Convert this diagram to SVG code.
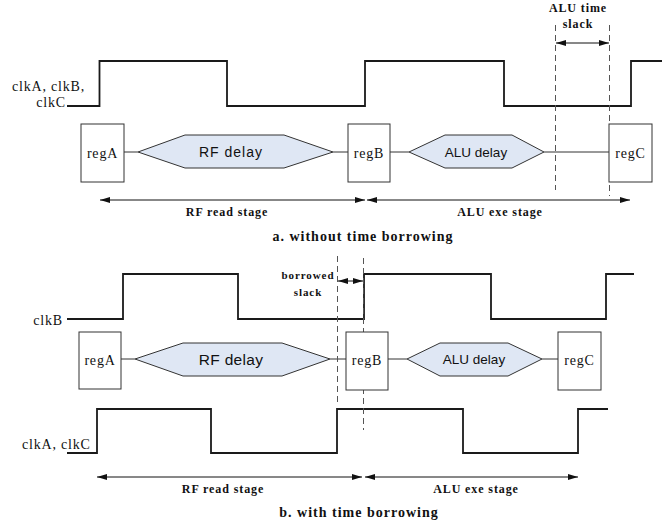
<svg xmlns="http://www.w3.org/2000/svg" width="672" height="525" viewBox="0 0 672 525">
<style>
.clk{fill:none;stroke:#1a1a1a;stroke-width:1.8}
.reg{fill:#fff;stroke:#333;stroke-width:1}
.hex{fill:#dfe7f4;stroke:#333;stroke-width:1}
.wire{stroke:#333;stroke-width:1;fill:none}
.dash{stroke:#555;stroke-width:1;stroke-dasharray:6,4;fill:none}
.arr{stroke:#111;stroke-width:1;fill:none;marker-start:url(#ah);marker-end:url(#ah)}
.lbl{font-family:"Liberation Serif",serif;font-size:14px;letter-spacing:0.8px;fill:#111}
.dl{font-family:"Liberation Sans",sans-serif;font-size:13.5px;fill:#111;text-anchor:middle}
.st{font-family:"Liberation Serif",serif;font-size:12px;font-weight:bold;letter-spacing:0.9px;fill:#111;text-anchor:middle}
.ttl{font-family:"Liberation Serif",serif;font-size:14px;font-weight:bold;letter-spacing:1px;fill:#111;text-anchor:middle}
</style>
<defs>
<marker id="ah" viewBox="0 0 10 6" refX="10" refY="3" markerWidth="10" markerHeight="6" markerUnits="userSpaceOnUse" orient="auto-start-reverse">
<path d="M0,0 L10,3 L0,6 z" fill="#111"/>
</marker>
</defs>

<!-- Part a -->
<g id="clk-a">
<polyline class="clk" points="67,106 99.5,106 99.5,61 227,61 227,106 365,106 365,61 504,61 504,106 631,106 631,61 662,61"/>
<text class="lbl" x="12" y="91">clkA, clkB,</text>
<text class="lbl" x="66" y="107" text-anchor="end">clkC</text>
</g>
<g id="connectors-a">
<line class="wire" x1="124" y1="152" x2="138" y2="152"/>
<line class="wire" x1="333" y1="152" x2="348" y2="152"/>
<line class="wire" x1="390" y1="152" x2="409" y2="152"/>
<line class="wire" x1="544" y1="152" x2="609" y2="152"/>
<line class="dash" x1="555.5" y1="25" x2="555.5" y2="190"/>
<line class="dash" x1="609.5" y1="25" x2="609.5" y2="196"/>
<line class="arr" x1="556" y1="43" x2="609" y2="43"/>
<line class="arr" x1="100" y1="200" x2="365" y2="200"/>
<line class="arr" x1="367" y1="200" x2="630" y2="200"/>
</g>
<g id="regA-a"><rect class="reg" x="81" y="124" width="43" height="58"/><text class="lbl" x="102.5" y="158" text-anchor="middle">regA</text></g>
<g id="rf-a"><polygon class="hex" points="138,152 185,135 284,135 333,152 284,168 185,168"/><text class="dl" x="231" y="157" style="font-size:14px;letter-spacing:1px">RF delay</text></g>
<g id="regB-a"><rect class="reg" x="348" y="124" width="42" height="58"/><text class="lbl" x="369" y="158" text-anchor="middle">regB</text></g>
<g id="alu-a"><polygon class="hex" points="409,152 445,135 512,135 544,152 512,168 445,168"/><text class="dl" x="476" y="157">ALU delay</text></g>
<g id="regC-a"><rect class="reg" x="609" y="124" width="43" height="58"/><text class="lbl" x="630.5" y="158" text-anchor="middle">regC</text></g>
<g id="labels-a">
<text class="st" x="578" y="12">ALU time</text>
<text class="st" x="578" y="28">slack</text>
<text class="st" x="227" y="216">RF read stage</text>
<text class="st" x="500" y="216">ALU exe stage</text>
<text class="ttl" x="363" y="241">a. without time borrowing</text>
</g>

<!-- Part b -->
<g id="clkB-b">
<polyline class="clk" points="67,319 123,319 123,274 238,274 238,319 364,319 364,274 491,274 491,319 606,319 606,274 634,274"/>
<text class="lbl" x="63" y="325" text-anchor="end">clkB</text>
</g>
<g id="clkAC-b">
<polyline class="clk" points="67,453 97,453 97,409 211,409 211,453 337,453 337,409 463,409 463,453 578,453 578,409 608,409"/>
<text class="lbl" x="22" y="449">clkA, clkC</text>
</g>
<g id="connectors-b">
<line class="wire" x1="121" y1="359" x2="135" y2="359"/>
<line class="wire" x1="330" y1="359" x2="346" y2="359"/>
<line class="wire" x1="388" y1="359" x2="407" y2="359"/>
<line class="wire" x1="542" y1="359" x2="558" y2="359"/>
<line class="dash" x1="337.5" y1="256" x2="337.5" y2="406"/>
<line class="dash" x1="363.5" y1="258" x2="363.5" y2="430"/>
<line class="arr" x1="338" y1="281" x2="363" y2="281"/>
<line class="arr" x1="97" y1="477" x2="362" y2="477"/>
<line class="arr" x1="365" y1="477" x2="578" y2="477"/>
</g>
<g id="regA-b"><rect class="reg" x="79" y="332" width="42" height="57"/><text class="lbl" x="100" y="365" text-anchor="middle">regA</text></g>
<g id="rf-b"><polygon class="hex" points="135,359 183,343 282,343 330,359 282,376 183,376"/><text class="dl" x="231" y="365" style="font-size:15.5px;letter-spacing:0.3px">RF delay</text></g>
<g id="regB-b"><rect class="reg" x="346" y="332" width="42" height="58"/><text class="lbl" x="367" y="365" text-anchor="middle">regB</text></g>
<g id="alu-b"><polygon class="hex" points="407,359 440,343 508,343 542,359 508,376 440,376"/><text class="dl" x="474" y="364">ALU delay</text></g>
<g id="regC-b"><rect class="reg" x="558" y="332" width="43" height="58"/><text class="lbl" x="579.5" y="365" text-anchor="middle">regC</text></g>
<g id="labels-b">
<text class="st" x="308" y="279" style="font-size:11px">borrowed</text>
<text class="st" x="308" y="296" style="font-size:11px">slack</text>
<text class="st" x="223" y="493">RF read stage</text>
<text class="st" x="476" y="493">ALU exe stage</text>
<text class="ttl" x="359" y="517">b. with time borrowing</text>
</g>
</svg>
